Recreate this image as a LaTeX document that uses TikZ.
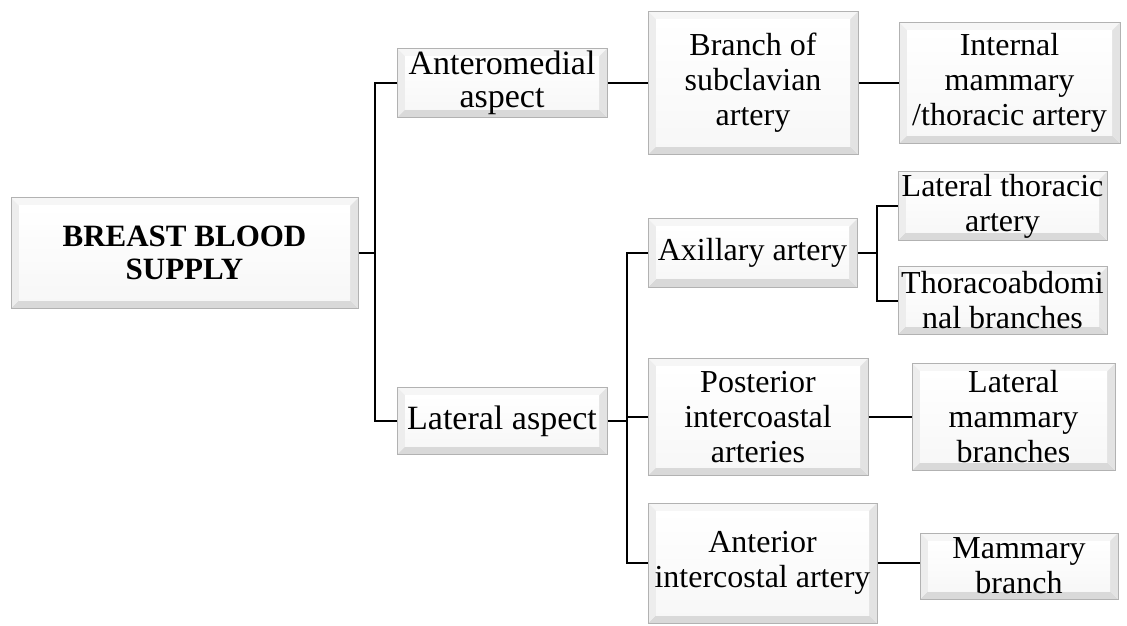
\documentclass[tikz,border=0pt]{standalone}
\usepackage{fontspec}
\setmainfont{Liberation Serif}
\begin{document}
\begin{tikzpicture}[x=0.5pt,y=-0.5pt,
  bev/.style={draw=gray!60, line width=0.5pt, fill=white, align=center, inner sep=1pt,
    font=\fontsize{16}{17.5}\selectfont,
    path picture={
      \coordinate (ppnw) at (path picture bounding box.north west);
      \coordinate (ppse) at (path picture bounding box.south east);
      \coordinate (ppne) at (path picture bounding box.north east);
      \coordinate (ppsw) at (path picture bounding box.south west);
      \fill[gray!7] (ppnw) -- (ppne) -- ([shift={(-4pt,-4pt)}]ppne) -- ([shift={(4pt,-4pt)}]ppnw) -- cycle;
      \fill[gray!30] (ppsw) -- (ppse) -- ([shift={(-4pt,4pt)}]ppse) -- ([shift={(4pt,4pt)}]ppsw) -- cycle;
      \fill[gray!14] (ppnw) -- (ppsw) -- ([shift={(4pt,4pt)}]ppsw) -- ([shift={(4pt,-4pt)}]ppnw) -- cycle;
      \fill[gray!22] (ppne) -- (ppse) -- ([shift={(-4pt,4pt)}]ppse) -- ([shift={(-4pt,-4pt)}]ppne) -- cycle;
      \shade[top color=white, bottom color=gray!6] ([shift={(4pt,-4pt)}]ppnw) rectangle ([shift={(-4pt,4pt)}]ppse);
    }},
  conn/.style={draw=black, line width=1pt}]
\useasboundingbox (0,0) rectangle (1127,625);

\node[bev, minimum width=173.5pt, minimum height=55pt, font=\fontsize{15.5}{16.5}\selectfont\bfseries] (root) at (184.5,253) {BREAST BLOOD\\SUPPLY};
\node[bev, minimum width=105pt, minimum height=34.5pt, font=\fontsize{17}{16.5}\selectfont] (ant) at (502,83) {Anteromedial\\aspect};
\node[bev, minimum width=105pt, minimum height=33.5pt, font=\fontsize{17}{17.5}\selectfont] (lat) at (502,421) {Lateral aspect};
\node[bev, minimum width=105pt, minimum height=71.5pt] (branch) at (753,83) {Branch of\\subclavian\\artery};
\node[bev, minimum width=110.5pt, minimum height=60.5pt] (intm) at (1009.5,83) {Internal\\mammary\\/thoracic artery};
\node[bev, minimum width=104.5pt, minimum height=34pt] (axil) at (752.5,253) {Axillary artery};
\node[bev, minimum width=104.5pt, minimum height=33pt] (latthor) at (1002.5,206) {Lateral thoracic\\artery};
\node[bev, minimum width=104.5pt, minimum height=33.5pt] (thorab) at (1002.5,300.5) {Thoracoabdomi\\nal branches};
\node[bev, minimum width=110pt, minimum height=58.5pt] (post) at (758,417) {Posterior\\intercoastal\\arteries};
\node[bev, minimum width=101.5pt, minimum height=53.5pt] (latmam) at (1013.5,417) {Lateral\\mammary\\branches};
\node[bev, minimum width=114.5pt, minimum height=60pt] (antint) at (762.5,563) {Anterior\\intercostal artery};
\node[bev, minimum width=99pt, minimum height=33pt] (mambr) at (1019,566) {Mammary\\branch};

\coordinate (b1) at (375,253);
\coordinate (b2) at (627,421);
\coordinate (b3) at (877,253);

\draw[conn] (root.east) -- (b1);
\draw[conn] (ant.west) -| (b1) |- (lat.west);
\draw[conn] (ant.east) -- (ant.east -| branch.west);
\draw[conn] (branch.east) -- (branch.east -| intm.west);
\draw[conn] (lat.east) -- (b2);
\draw[conn] (axil.west) -| (b2) |- (antint.west);
\draw[conn] (post.west) -- (post.west -| b2);
\draw[conn] (axil.east) -- (b3);
\draw[conn] (latthor.west) -| (b3) |- (thorab.west);
\draw[conn] (post.east) -- (post.east -| latmam.west);
\draw[conn] (antint.east) -- (antint.east -| mambr.west);
\end{tikzpicture}
\end{document}
